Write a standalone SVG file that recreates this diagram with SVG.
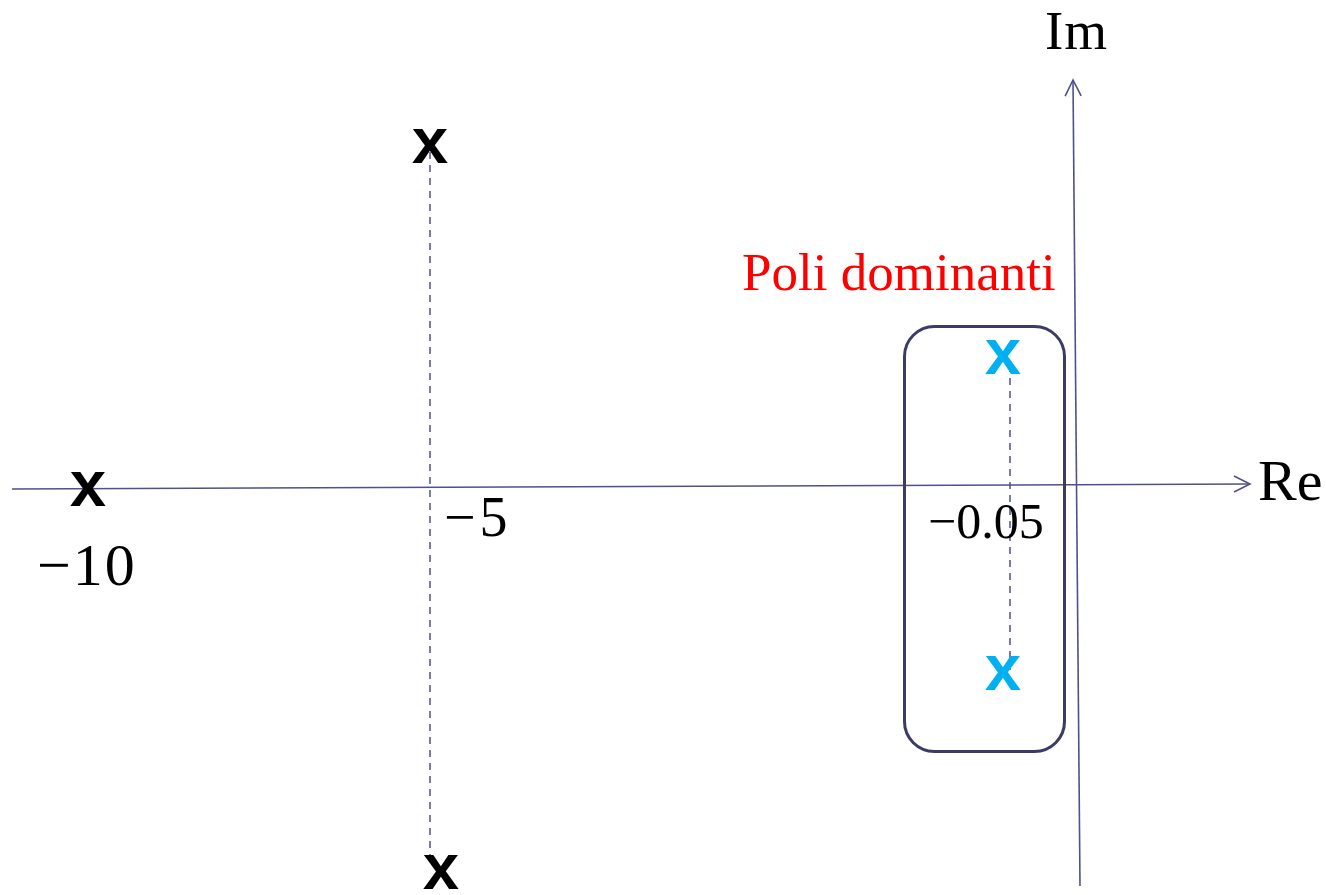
<svg xmlns="http://www.w3.org/2000/svg" width="1326" height="895" viewBox="0 0 1326 895">
<style>
.axis{stroke:#50508a;stroke-width:1.6;fill:none}
.dash{stroke:#50508a;stroke-width:1.5;stroke-dasharray:7,6;fill:none}
.lbl{font-family:"Liberation Serif",serif;fill:#000}
.pole{font-family:"Liberation Mono",monospace;font-weight:bold;font-size:64px;text-anchor:middle}
</style>
<defs>
<marker id="arr" viewBox="0 0 20 20" refX="18" refY="10" markerWidth="20" markerHeight="20" markerUnits="userSpaceOnUse" orient="auto">
<path d="M2,2 L18,10 L2,18" fill="none" stroke="#50508a" stroke-width="1.6"/>
</marker>
</defs>
<rect width="1326" height="895" fill="#fff"/>
<g id="connectors">
<line class="axis" x1="12" y1="489" x2="1250" y2="484" marker-end="url(#arr)"/>
<line class="axis" x1="1080" y1="886" x2="1073" y2="80" marker-end="url(#arr)"/>
<line class="dash" x1="430" y1="152" x2="430" y2="866"/>
<line class="dash" x1="1010" y1="365" x2="1010" y2="670"/>
</g>
<g id="dominant-box">
<rect x="904.5" y="326.5" width="160" height="425" rx="30" fill="none" stroke="#3b3b66" stroke-width="3"/>
<text class="lbl" x="742" y="290" font-size="53" style="fill:#ff0000">Poli dominanti</text>
</g>
<g id="pole-m10"><text class="pole" x="88" y="506">x</text></g>
<g id="pole-m5-up"><text class="pole" x="430" y="163">x</text></g>
<g id="pole-m5-down"><text class="pole" x="441" y="889">x</text></g>
<g id="pole-d-up"><text class="pole" x="1003" y="374" fill="#00b0f0">x</text></g>
<g id="pole-d-down"><text class="pole" x="1003" y="690" fill="#00b0f0">x</text></g>
<g id="labels">
<text class="lbl" x="1045" y="49" font-size="55" letter-spacing="1">Im</text>
<text class="lbl" x="1258" y="500" font-size="58">Re</text>
<text class="lbl" x="37" y="585" font-size="60" letter-spacing="2">−10</text>
<text class="lbl" x="444" y="536" font-size="56" letter-spacing="4">−5</text>
<text class="lbl" x="928" y="538" font-size="50">−0.05</text>
</g>
</svg>
